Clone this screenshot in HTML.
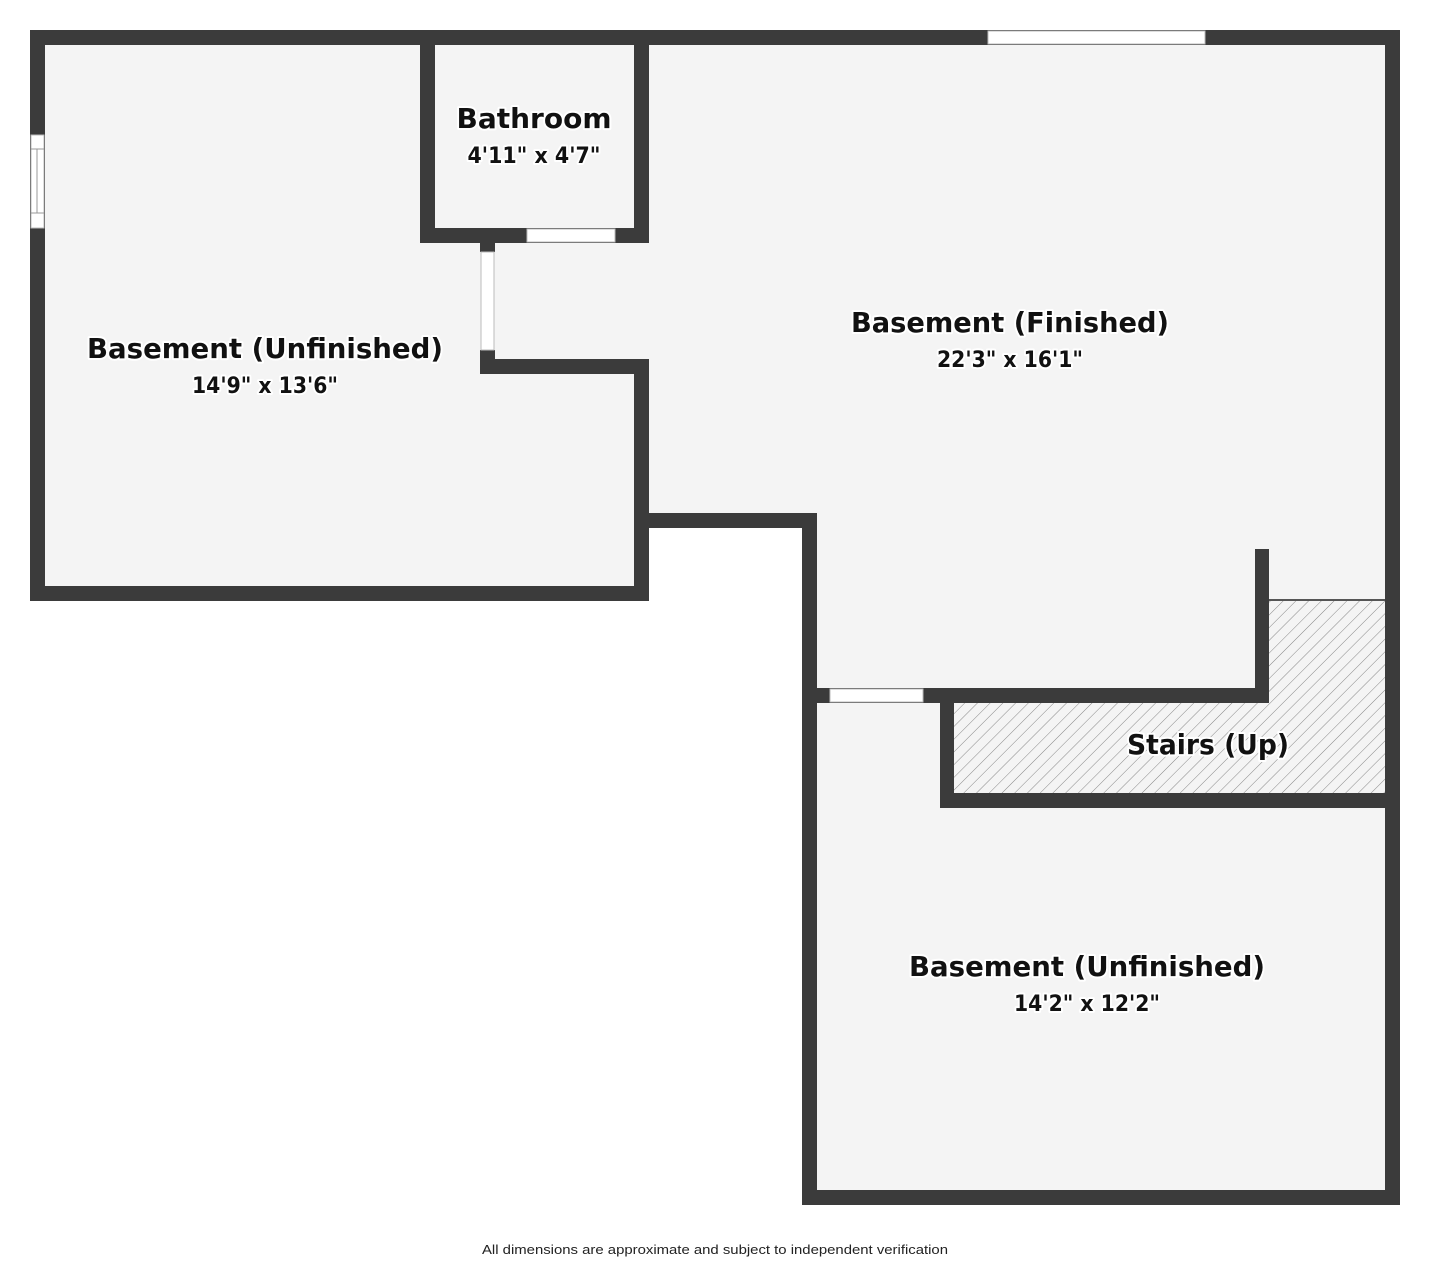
<!DOCTYPE html>
<html><head><meta charset="utf-8"><style>
html,body{margin:0;padding:0;background:#fff;}
svg{display:block;}
.l{font-family:"DejaVu Sans","Liberation Sans",sans-serif;font-weight:bold;fill:#111;paint-order:stroke;stroke:#fff;stroke-width:4px;stroke-linejoin:round;}
</style></head><body>
<svg width="1430" height="1265" viewBox="0 0 1430 1265" xmlns="http://www.w3.org/2000/svg">
<defs>
<pattern id="h" width="9" height="9" patternUnits="userSpaceOnUse" patternTransform="rotate(45)">
<line x1="0" y1="0" x2="0" y2="9" stroke="#888" stroke-width="1"/>
</pattern>
</defs>
<!-- floors -->
<g fill="#f4f4f4">
<rect x="45" y="45" width="590" height="542"/>
<rect x="635" y="45" width="751" height="469"/>
<rect x="816" y="514" width="570" height="677"/>
</g>
<!-- stairs hatch -->
<path d="M1269 600 H1386 V794 H954 V702 H1269 Z" fill="#f4f4f4"/>
<path d="M1269 600 H1386 V794 H954 V702 H1269 Z" fill="url(#h)"/>
<line x1="1269" y1="600" x2="1386" y2="600" stroke="#555" stroke-width="2"/>
<!-- walls -->
<g fill="#3b3b3b">
<rect x="30" y="30" width="1370" height="15"/>
<rect x="30" y="30" width="15" height="571"/>
<rect x="30" y="586" width="619" height="15"/>
<rect x="634" y="359" width="15" height="242"/>
<rect x="634" y="30" width="15" height="213"/>
<rect x="420" y="30" width="15" height="213"/>
<rect x="420" y="228" width="229" height="15"/>
<rect x="480" y="228" width="15" height="24"/>
<rect x="480" y="350" width="15" height="24"/>
<rect x="480" y="359" width="169" height="15"/>
<rect x="634" y="513" width="183" height="15"/>
<rect x="802" y="513" width="15" height="692"/>
<rect x="802" y="1190" width="598" height="15"/>
<rect x="1385" y="30" width="15" height="1175"/>
<rect x="1255" y="549" width="14" height="154"/>
<rect x="816" y="688" width="453" height="15"/>
<rect x="940" y="688" width="14" height="120"/>
<rect x="940" y="793" width="460" height="15"/>
</g>
<!-- openings -->
<g fill="#fff" stroke="#bbb" stroke-width="1">
<rect x="988" y="31" width="217" height="13"/>
<rect x="31" y="135" width="13" height="93"/>
<rect x="527" y="229" width="88" height="13"/>
<rect x="481" y="252" width="13" height="98"/>
<rect x="830" y="689" width="93" height="13"/>
</g>
<g stroke="#999" stroke-width="1">
<line x1="31" y1="149" x2="44" y2="149"/><line x1="31" y1="213" x2="44" y2="213"/>
<line x1="37" y1="149" x2="37" y2="213"/>
</g>
<!-- labels -->
<text class="l" x="534" y="128" font-size="28" text-anchor="middle" textLength="155" lengthAdjust="spacingAndGlyphs">Bathroom</text>
<text class="l" x="534" y="163" font-size="22" text-anchor="middle" textLength="133" lengthAdjust="spacingAndGlyphs">4'11" x 4'7"</text>
<text class="l" x="265" y="358" font-size="28" text-anchor="middle" textLength="356" lengthAdjust="spacingAndGlyphs">Basement (Unfinished)</text>
<text class="l" x="265" y="393" font-size="22" text-anchor="middle" textLength="146" lengthAdjust="spacingAndGlyphs">14'9" x 13'6"</text>
<text class="l" x="1010" y="332" font-size="28" text-anchor="middle" textLength="318" lengthAdjust="spacingAndGlyphs">Basement (Finished)</text>
<text class="l" x="1010" y="367" font-size="22" text-anchor="middle" textLength="146" lengthAdjust="spacingAndGlyphs">22'3" x 16'1"</text>
<text class="l" x="1208" y="754" font-size="28" text-anchor="middle" textLength="162" lengthAdjust="spacingAndGlyphs">Stairs (Up)</text>
<text class="l" x="1087" y="976" font-size="28" text-anchor="middle" textLength="356" lengthAdjust="spacingAndGlyphs">Basement (Unfinished)</text>
<text class="l" x="1087" y="1011" font-size="22" text-anchor="middle" textLength="146" lengthAdjust="spacingAndGlyphs">14'2" x 12'2"</text>
<text x="715" y="1254" font-size="13" text-anchor="middle" fill="#222" font-family="Liberation Sans, sans-serif" textLength="466" lengthAdjust="spacingAndGlyphs">All dimensions are approximate and subject to independent verification</text>
</svg>
</body></html>
